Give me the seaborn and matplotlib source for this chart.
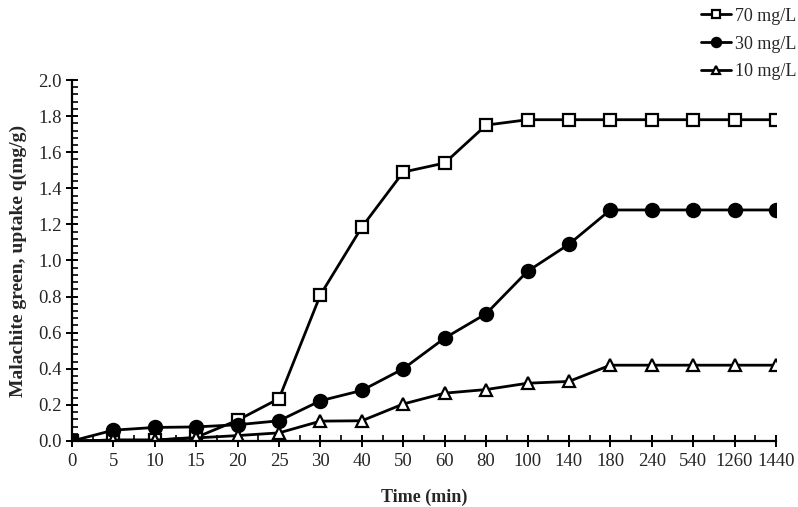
# Malachite green uptake vs time for three initial concentrations
import numpy as np
import pandas as pd
import matplotlib.pyplot as plt
import seaborn as sns
from matplotlib.ticker import MultipleLocator, FormatStrFormatter

# Data
times = ['0', '5', '10', '15', '20', '25', '30', '40', '50', '60', '80',
         '100', '140', '180', '240', '540', '1260', '1440']
q_70 = [0.0, 0.005, 0.005, 0.02, 0.115, 0.235, 0.81, 1.185, 1.49, 1.54, 1.75,
        1.78, 1.78, 1.78, 1.78, 1.78, 1.78, 1.78]
q_30 = [0.0, 0.06, 0.075, 0.078, 0.09, 0.112, 0.223, 0.28, 0.40, 0.57, 0.705,
        0.94, 1.09, 1.28, 1.28, 1.28, 1.28, 1.28]
q_10 = [0.0, 0.005, 0.005, 0.017, 0.03, 0.045, 0.11, 0.112, 0.205, 0.265, 0.285,
        0.32, 0.33, 0.42, 0.42, 0.42, 0.42, 0.42]

sns.set_style('white')
plt.rcParams['font.family'] = ['Liberation Serif', 'DejaVu Serif']

fig = plt.figure(figsize=(7.98, 5.07), dpi=100)
ax = fig.add_axes([0.0902, 0.1302, 0.8822, 0.712])

series = [('70 mg/L', q_70, 's', 'white', 8.5),
          ('30 mg/L', q_30, 'o', 'black', 9.5),
          ('10 mg/L', q_10, '^', 'white', 8.5)]
for label, vals, mk, fc, ms in series:
    df = pd.DataFrame({'Time': times, 'q': vals})
    sns.lineplot(data=df, x='Time', y='q', ax=ax, color='black', linewidth=2,
                 marker=mk, markersize=ms, markerfacecolor=fc,
                 markeredgecolor='black', markeredgewidth=1.6, label=label)

ax.set_xlim(0, len(times) - 1)
ax.set_ylim(0, 2.0)
ax.yaxis.set_major_locator(MultipleLocator(0.2))
ax.yaxis.set_minor_locator(MultipleLocator(0.04))
ax.yaxis.set_major_formatter(FormatStrFormatter('%.1f'))
ax.xaxis.set_minor_locator(MultipleLocator(0.5))

for side in ['top', 'right']:
    ax.spines[side].set_visible(False)
for side in ['left', 'bottom']:
    ax.spines[side].set_color('black')
    ax.spines[side].set_linewidth(1.6)

ax.tick_params(axis='both', which='both', bottom=True, left=True,
               top=False, right=False)
ax.tick_params(axis='both', which='major', direction='inout', length=9,
               width=1.4, color='black', labelsize=13.5)
ax.tick_params(axis='both', which='minor', direction='in', length=4,
               width=1.2, color='black')
ax.tick_params(axis='x', which='major', pad=4)
ax.tick_params(axis='y', which='major', pad=3)

ax.set_xlabel('Time (min)', fontsize=13, fontweight='bold', labelpad=13.5)
ax.set_ylabel('Malachite green, uptake q(mg/g)', fontsize=14,
              fontweight='bold', labelpad=8)

ax.legend(loc='upper right', bbox_to_anchor=(1.052, 1.245), frameon=False,
          fontsize=13, handlelength=1.7, markerscale=0.7, labelspacing=0.6,
          handletextpad=0.2)

fig.savefig('out.png', dpi=100)
